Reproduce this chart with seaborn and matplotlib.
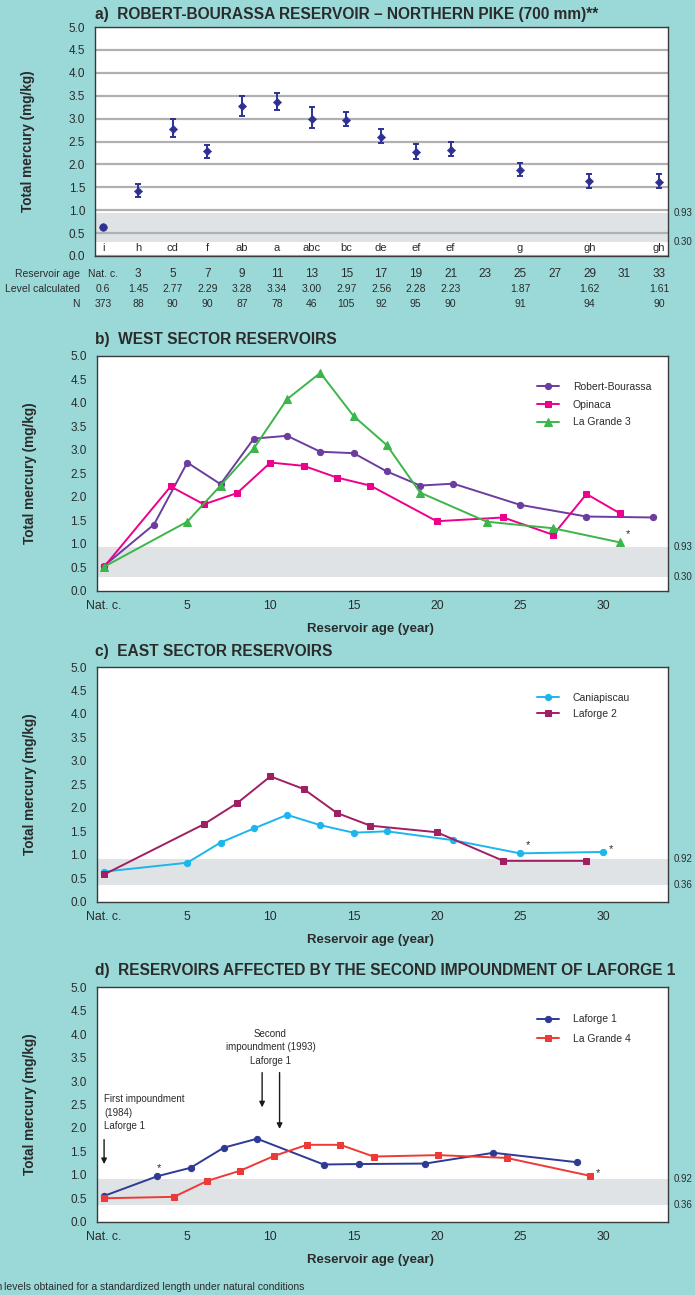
import numpy as np
import pandas as pd
import matplotlib
matplotlib.use("Agg")
import matplotlib.pyplot as plt
import seaborn as sns

# ---------------- data ----------------
# a) Robert-Bourassa, northern pike
a_cols = ['Nat. c.', '3', '5', '7', '9', '11', '13', '15', '17', '19', '21', '23', '25', '27', '29', '31', '33']
a_col_pos = [1, 3, 5, 7, 9, 11, 13, 15, 17, 19, 21, 23, 25, 27, 29, 31, 33]
a_level_txt = ['0.6', '1.45', '2.77', '2.29', '3.28', '3.34', '3.00', '2.97', '2.56', '2.28', '2.23', '',
               '1.87', '', '1.62', '', '1.61']
a_n_txt = ['373', '88', '90', '90', '87', '78', '46', '105', '92', '95', '90', '', '91', '', '94', '', '90']

a_pos = [1, 3, 5, 7, 9, 11, 13, 15, 17, 19, 21, 25, 29, 33]
a_mean = [0.63, 1.43, 2.77, 2.29, 3.27, 3.36, 3.00, 2.97, 2.59, 2.27, 2.31, 1.87, 1.63, 1.62]
a_low = [0.63, 1.29, 2.60, 2.14, 3.05, 3.19, 2.80, 2.83, 2.46, 2.11, 2.19, 1.74, 1.48, 1.48]
a_high = [0.63, 1.58, 2.99, 2.43, 3.50, 3.55, 3.25, 3.15, 2.77, 2.44, 2.48, 2.04, 1.80, 1.78]
a_letters = ['i', 'h', 'cd', 'f', 'ab', 'a', 'abc', 'bc', 'de', 'ef', 'ef', 'g', 'gh', 'gh']

# b) west sector
rb_age = [0, 3, 5, 7, 9, 11, 13, 15, 17, 19, 21, 25, 29, 33]
rb_hg = [0.53, 1.41, 2.73, 2.27, 3.24, 3.30, 2.96, 2.93, 2.54, 2.24, 2.28, 1.83, 1.58, 1.56]
op_age = [0, 4, 6, 8, 10, 12, 14, 16, 20, 24, 27, 29, 31]
op_hg = [0.51, 2.22, 1.84, 2.08, 2.73, 2.66, 2.41, 2.24, 1.48, 1.56, 1.19, 2.06, 1.65]
lg3_age = [0, 5, 7, 9, 11, 13, 15, 17, 19, 23, 27, 31]
lg3_hg = [0.51, 1.47, 2.24, 3.03, 4.08, 4.64, 3.72, 3.10, 2.09, 1.47, 1.33, 1.03]

# c) east sector
ca_age = [0, 5, 7, 9, 11, 13, 15, 17, 21, 25, 30]
ca_hg = [0.64, 0.83, 1.26, 1.56, 1.85, 1.63, 1.47, 1.50, 1.31, 1.03, 1.06]
lf2_age = [0, 6, 8, 10, 12, 14, 16, 20, 24, 29]
lf2_hg = [0.58, 1.65, 2.10, 2.67, 2.40, 1.89, 1.62, 1.48, 0.87, 0.87]

# d) second impoundment of Laforge 1
lf1_age = [0, 3.2, 5.2, 7.2, 9.2, 13.2, 15.3, 19.3, 23.4, 28.4]
lf1_hg = [0.55, 0.97, 1.15, 1.58, 1.77, 1.22, 1.23, 1.24, 1.47, 1.27]
lg4_age = [0, 4.2, 6.2, 8.2, 10.2, 12.2, 14.2, 16.2, 20.1, 24.2, 29.2]
lg4_hg = [0.50, 0.53, 0.87, 1.09, 1.40, 1.64, 1.64, 1.39, 1.42, 1.36, 0.98]

# natural range bands
band_a = (0.30, 0.93)
band_b = (0.30, 0.93)
band_c = (0.36, 0.92)
band_d = (0.36, 0.92)

BG = '#9bd9d8'
BAND = '#e0e3e5'
TXT = '#2b2b2b'
FONT = ['Liberation Sans', 'DejaVu Sans']

sns.set_theme(style='white')
plt.rcParams['font.family'] = FONT
plt.rcParams['text.color'] = TXT
plt.rcParams['axes.labelcolor'] = TXT
plt.rcParams['xtick.color'] = TXT
plt.rcParams['ytick.color'] = TXT

fig = plt.figure(figsize=(6.95, 12.95), dpi=100, facecolor=BG)

W, H = 695.0, 1295.0


def make_ax(left, top, right, bottom):
    return fig.add_axes([left / W, 1 - bottom / H, (right - left) / W, (bottom - top) / H])


def style_ax(ax, band):
    ax.set_facecolor('white')
    ax.set_ylim(0, 5)
    ax.set_yticks(np.arange(0, 5.01, 0.5))
    ax.set_yticklabels([f'{v:.1f}' for v in np.arange(0, 5.01, 0.5)], fontsize=8.5)
    for s in ax.spines.values():
        s.set_color('#3a3a3a')
        s.set_linewidth(1.0)
        s.set_visible(True)
    ax.tick_params(axis='both', which='both', direction='out', color='#3a3a3a', width=0.9)
    ax.tick_params(axis='y', length=4, pad=3)
    ax.axhspan(band[0], band[1], color=BAND, zorder=0.2, lw=0)
    tr = ax.get_yaxis_transform()
    ax.text(1.009, band[1], f'{band[1]:.2f}', transform=tr, fontsize=7, va='center', ha='left')
    ax.text(1.009, band[0], f'{band[0]:.2f}', transform=tr, fontsize=7, va='center', ha='left')


def ylab(ax):
    ax.set_ylabel('Total mercury (mg/kg)', fontweight='bold', fontsize=9.8)
    ax.yaxis.set_label_coords(-0.105, 0.5)


def age_axis(ax):
    ax.set_xlim(-0.45, 33.9)
    ax.set_xticks([0, 5, 10, 15, 20, 25, 30])
    ax.set_xticklabels(['Nat. c.', '5', '10', '15', '20', '25', '30'], fontsize=8.8)
    ax.set_xticks(np.arange(1, 34), minor=True)
    ax.tick_params(axis='x', which='major', length=4, pad=3)
    ax.tick_params(axis='x', which='minor', length=4)
    ax.set_xlabel('Reservoir age (year)', fontweight='bold', fontsize=9.5)
    ax.xaxis.set_label_coords(0.48, -0.136)


def series(ax, x, y, color, marker, label, ms=4.5):
    df = pd.DataFrame({'age': x, 'hg': y})
    sns.lineplot(data=df, x='age', y='hg', ax=ax, color=color, marker=marker, markersize=ms,
                 markeredgecolor=color, linewidth=1.4, label=label, sort=False, zorder=3)


def legend(ax, x0, y0, spacing):
    ax.legend(loc='upper left', bbox_to_anchor=(x0, y0), frameon=False, fontsize=7.5,
              handlelength=2.1, handletextpad=1.3, labelspacing=spacing)


# ---------------- a ----------------
axa = make_ax(95, 27, 668, 256)
style_ax(axa, band_a)
ylab(axa)
axa.set_xlim(0.53, 33.52)
axa.set_axisbelow(True)
axa.yaxis.grid(True, color='#b0b0b0', linewidth=1.6)
axa.set_xticks(np.arange(1.5, 33.5, 1.0))
axa.set_xticklabels([])
axa.tick_params(axis='x', length=4)
a_err = [np.array(a_mean) - np.array(a_low), np.array(a_high) - np.array(a_mean)]
axa.errorbar(a_pos[1:], a_mean[1:], yerr=[a_err[0][1:], a_err[1][1:]], fmt='none',
             ecolor='#2e3192', elinewidth=1.4, capsize=2.5, capthick=1.4, zorder=3)
dfa = pd.DataFrame({'pos': a_pos, 'hg': a_mean})
sns.scatterplot(data=dfa.iloc[1:], x='pos', y='hg', ax=axa, marker='D', s=18, color='#2e3192',
                edgecolor='#2e3192', zorder=4)
sns.scatterplot(data=dfa.iloc[:1], x='pos', y='hg', ax=axa, marker='o', s=30, color='#2e3192',
                edgecolor='#2e3192', zorder=4)
axa.set_xlabel('')
for p, l in zip(a_pos, a_letters):
    axa.text(p, 0.17, l, ha='center', va='center', fontsize=8, zorder=5)
xt = axa.get_xaxis_transform()
rows = [('Reservoir age', a_cols, -0.078), ('Level calculated', a_level_txt, -0.144), ('N', a_n_txt, -0.210)]
for name, vals, yy in rows:
    axa.text(-0.026, yy, name, transform=axa.transAxes, ha='right', va='center', fontsize=7.5)
    for p, v in zip(a_col_pos, vals):
        fs = 8.5 if name == 'Reservoir age' and v != 'Nat. c.' else 7.5
        axa.text(p, yy, v, transform=xt, ha='center', va='center', fontsize=fs)
fig.text(95 / W, 1 - 14 / H, 'a)  ROBERT-BOURASSA RESERVOIR \u2013 NORTHERN PIKE (700 mm)**',
         fontsize=11.2, fontweight='bold', va='center', ha='left')

# ---------------- b ----------------
axb = make_ax(96.6, 356, 668, 590.7)
style_ax(axb, band_b)
series(axb, rb_age, rb_hg, '#6a3d9f', 'o', 'Robert-Bourassa')
series(axb, op_age, op_hg, '#ec008c', 's', 'Opinaca')
series(axb, lg3_age, lg3_hg, '#3cb54a', '^', 'La Grande 3', ms=5.5)
age_axis(axb)
ylab(axb)
axb.text(31.5, 1.2, '*', fontsize=8, ha='center', va='center')
legend(axb, 0.755, 0.93, 0.75)
fig.text(95 / W, 1 - 340 / H, 'b)  WEST SECTOR RESERVOIRS', fontsize=11.2, fontweight='bold',
         va='center', ha='left')

# ---------------- c ----------------
axc = make_ax(96.6, 667, 668, 901.7)
style_ax(axc, band_c)
series(axc, ca_age, ca_hg, '#1db6ec', 'o', 'Caniapiscau')
series(axc, lf2_age, lf2_hg, '#a01f62', 's', 'Laforge 2')
age_axis(axc)
ylab(axc)
axc.text(25.5, 1.2, '*', fontsize=8, ha='center', va='center')
axc.text(30.5, 1.12, '*', fontsize=8, ha='center', va='center')
legend(axc, 0.755, 0.93, 0.6)
fig.text(95 / W, 1 - 652 / H, 'c)  EAST SECTOR RESERVOIRS', fontsize=11.2, fontweight='bold',
         va='center', ha='left')

# ---------------- d ----------------
axd = make_ax(96.6, 987.3, 668, 1221.7)
style_ax(axd, band_d)
series(axd, lf1_age, lf1_hg, '#2e3a94', 'o', 'Laforge 1')
series(axd, lg4_age, lg4_hg, '#ee3a36', 's', 'La Grande 4')
age_axis(axd)
ylab(axd)
axd.text(3.3, 1.14, '*', fontsize=8, ha='center', va='center')
axd.text(29.7, 1.04, '*', fontsize=8, ha='center', va='center')
legend(axd, 0.755, 0.925, 0.92)
arrow = dict(arrowstyle='-|>', color='#1a1a1a', lw=1.0, mutation_scale=8)
axd.text(0.0, 2.72, 'First impoundment\n(1984)\nLaforge 1', fontsize=7, ha='left', va='top',
         linespacing=1.45)
axd.annotate('', xy=(0.0, 1.17), xytext=(0.0, 1.81), arrowprops=arrow)
axd.text(10.0, 4.12, 'Second\nimpoundment (1993)\nLaforge 1', fontsize=7, ha='center', va='top',
         linespacing=1.45)
axd.annotate('', xy=(9.5, 2.38), xytext=(9.5, 3.24), arrowprops=arrow)
axd.annotate('', xy=(10.55, 1.92), xytext=(10.55, 3.24), arrowprops=arrow)
fig.text(95 / W, 1 - 970 / H, 'd)  RESERVOIRS AFFECTED BY THE SECOND IMPOUNDMENT OF LAFORGE 1',
         fontsize=11.2, fontweight='bold', va='center', ha='left')

# footnote, cut at the left edge as in the source
fig.text(2 / W, 1 - 1287 / H, '** Mean', fontsize=7.5, ha='right', va='center')
fig.text(4 / W, 1 - 1287 / H, 'levels obtained for a standardized length under natural conditions',
         fontsize=7.5, ha='left', va='center')

fig.savefig('out.png', dpi=100, facecolor=BG)
